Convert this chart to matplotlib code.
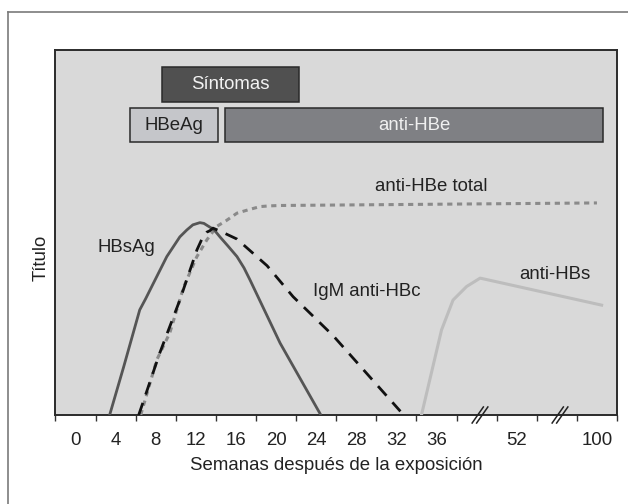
import numpy as np
import matplotlib
matplotlib.use("Agg")
import matplotlib.pyplot as plt
from matplotlib.lines import Line2D

plt.rcParams['font.family'] = ['Liberation Sans', 'DejaVu Sans']

# ---- data (x in weeks after exposure, y in relative titre 0-100) ----
label_weeks = [0, 4, 8, 12, 16, 20, 24, 28, 32, 36, 52, 100]
label_text = ["0", "4", "8", "12", "16", "20", "24", "28", "32", "36", "52", "100"]

hbsag_w = [3.4, 4.8, 6.4, 7.0, 7.6, 9.1, 10.4, 11.1, 11.7, 12.4, 12.8, 13.2, 13.8,
           14.4, 15.2, 16.1, 16.8, 17.4, 20.4, 24.4]
hbsag_y = [0, 13.2, 28.8, 31.9, 35.2, 43.4, 48.8, 50.7, 52.1, 52.7, 52.5, 51.8, 50.8,
           48.8, 46.3, 43.4, 40.3, 37.0, 19.7, 0.3]

igm_w = [6.3, 8.4, 10.4, 12.1, 12.6, 13.1, 13.4, 13.7, 14.4, 16.1, 19.1, 21.7, 25.7, 32.4]
igm_y = [0, 17.0, 31.5, 45.2, 48.2, 50.1, 50.5, 51.2, 50.4, 48.2, 40.9, 32.4, 21.7, 1.0]

antihbe_w = [6.5, 8.1, 9.4, 10.8, 12.1, 13.1, 14.1, 15.0, 16.1, 17.2, 18.4, 19.4, 20.4, 100]
antihbe_y = [0, 15.1, 22.5, 35.2, 43.4, 48.0, 51.7, 53.2, 55.3, 56.2, 57.1, 57.3, 57.4, 58.1]

antihbs_w = [34.5, 37.0, 39.3, 42.0, 44.7, 102.8]
antihbs_y = [0, 23.3, 31.5, 35.2, 37.5, 30.1]

# status bars: (label, start week, end week, bottom, top)
bar_labels = ["Síntomas", "HBeAg", "anti-HBe"]
bar_start = [8.6, 5.4, 14.9]
bar_end = [22.3, 14.2, 103.8]
bar_bottom = [85.8, 74.8, 74.8]
bar_top = [95.3, 84.1, 84.1]

# curve labels
curve_labels = ["anti-HBe total", "HBsAg", "IgM anti-HBc", "anti-HBs"]
curve_label_w = [35.45, 5.1, 29.07, 74.9]
curve_label_y = [62.7, 46.0, 33.7, 38.6]


# ---- broken x scale: weeks -> axis position ----
def fwd(w):
    w = np.asarray(w, dtype=float)
    return np.where(w <= 36, w / 4 + 0.5,
                    np.where(w <= 52, 9.5 + (w - 36) / 8, 11.5 + (w - 52) / 24))


def inv(u):
    u = np.asarray(u, dtype=float)
    return np.where(u <= 9.5, (u - 0.5) * 4,
                    np.where(u <= 11.5, 36 + (u - 9.5) * 8, 52 + (u - 11.5) * 24))


W, H = 628, 504
FS = 13.4
TC = '#222222'
fig = plt.figure(figsize=(W / 100, H / 100), dpi=100)
fig.patch.set_facecolor('white')

# outer frame (open to right/bottom)
fig.add_artist(Line2D([8 / W, 8 / W], [1 - 12 / H, -0.1], transform=fig.transFigure,
                      color='#7a7a7a', lw=1.2))
fig.add_artist(Line2D([8 / W, 1.1], [1 - 12 / H, 1 - 12 / H], transform=fig.transFigure,
                      color='#7a7a7a', lw=1.2))

L, R, T, B = 55.5, 617, 50, 415
ax = fig.add_axes([L / W, 1 - B / H, (R - L) / W, (B - T) / H])
ax.set_facecolor('#d9d9d9')
ax.set_xscale('function', functions=(fwd, inv))
ax.set_xlim(float(inv(0)), float(inv(14)))
ax.set_ylim(0, 100)

for s in ax.spines.values():
    s.set_color('#2b2b2b')
    s.set_linewidth(1.4)

# ticks: labels as major (no marks), marks as minor
ax.set_xticks(label_weeks)
ax.set_xticklabels(label_text)
ax.set_xticks(inv(np.arange(0, 15)), minor=True)
ax.tick_params(axis='x', which='major', length=0, pad=12, labelsize=FS, labelcolor=TC)
ax.tick_params(axis='x', which='minor', length=4, width=1, color='#333333', direction='out')
ax.set_yticks([])

# status bars
bar_face = ['#505050', '#c5c6ca', '#7f8084']
bar_text_color = ['#f2f2f2', TC, '#f0f0f0']
for lab, s, e, b, t, fc, tc in zip(bar_labels, bar_start, bar_end, bar_bottom, bar_top,
                                   bar_face, bar_text_color):
    ax.barh((b + t) / 2, e - s, left=s, height=t - b, color=fc, edgecolor='#2a2a2a',
            linewidth=1.1, zorder=2)
    xc = float(inv((fwd(s) + fwd(e)) / 2))
    ax.text(xc, (b + t) / 2, lab, ha='center', va='center', fontsize=FS, color=tc, zorder=3)

# curves
ax.plot(antihbs_w, antihbs_y, color='#bdbdbd', lw=2.2, solid_joinstyle='round', zorder=3)
ax.plot(antihbe_w, antihbe_y, color='#8a8a8a', lw=2.2, linestyle=(0, (1.7, 1.5)), zorder=3)
ax.plot(hbsag_w, hbsag_y, color='#555555', lw=2.0, solid_joinstyle='round', zorder=4)
ax.plot(igm_w, igm_y, color='#111111', lw=2.0, linestyle=(0, (4.6, 3.2)), zorder=5)

for lab, xw, yv in zip(curve_labels, curve_label_w, curve_label_y):
    ax.text(xw, yv, lab, ha='center', va='center', fontsize=FS, color=TC, zorder=6)

# axis break marks
for xf in [(480 - L) / (R - L), (560 - L) / (R - L)]:
    for dx in (-0.004, 0.004):
        ax.add_line(Line2D([xf + dx - 0.01, xf + dx + 0.01], [-0.022, 0.022],
                           transform=ax.transAxes, color=TC, lw=1.1, clip_on=False,
                           zorder=6))

fig.text(336 / W, 1 - 465 / H, "Semanas después de la exposición", ha='center', va='center',
         fontsize=FS, color=TC)
fig.text(41 / W, 1 - 258 / H, "Título", ha='center', va='center', rotation=90,
         fontsize=FS, color=TC)

fig.savefig("out.png", dpi=100)
